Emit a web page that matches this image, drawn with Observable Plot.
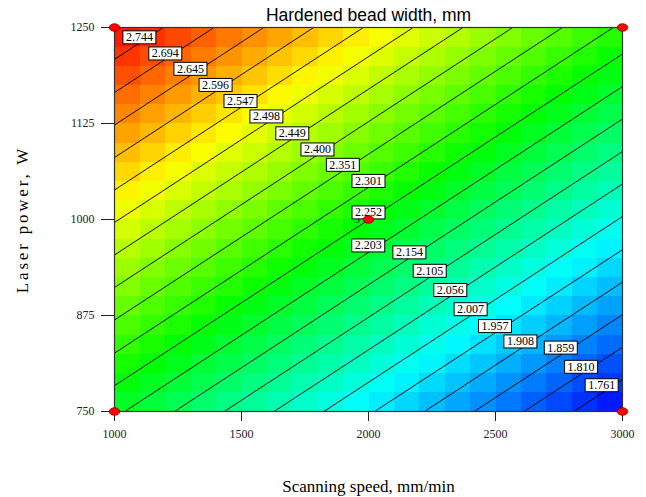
<!DOCTYPE html>
<html>
<head>
<meta charset="utf-8">
<script src="https://cdn.jsdelivr.net/npm/d3@7"></script>
<script src="https://cdn.jsdelivr.net/npm/@observablehq/plot@0.6"></script>
<style>
  html, body { margin: 0; padding: 0; background: white; }
</style>
</head>
<body>
<script>
// Design points (scanning speed, laser power) and the model response at each
const speeds = [1000, 3000, 1000, 3000, 2000];
const powers = [750, 750, 1250, 1250, 1000];
const widths = [2.213, 1.713, 2.792, 2.292, 2.2525];
const centerReplicates = 5;

// Contour levels and where their labels sit (speed, power)
const levels = [1.761, 1.810, 1.859, 1.908, 1.957, 2.007, 2.056, 2.105, 2.154, 2.203,
                2.252, 2.301, 2.351, 2.400, 2.449, 2.498, 2.547, 2.596, 2.645, 2.694, 2.744];
const labelSpeed = [2918, 2837, 2757, 2598, 2498, 2402, 2322, 2241, 2161, 1999,
                    2000, 2000, 1899, 1799, 1700, 1598, 1496, 1398, 1299, 1200, 1098];
const labelPower = [784, 808, 833, 841, 861, 883, 908, 933, 957, 966,
                    1009, 1050, 1071, 1091, 1112, 1134, 1154, 1175, 1196, 1216, 1237];

// Axis ticks
const speedTicks = [1000, 1500, 2000, 2500, 3000];
const powerTicks = [750, 875, 1000, 1125, 1250];

const title = "Hardened bead width, mm";
const xLabel = "Scanning speed, mm/min";
const yLabel = "Laser power, W";

const colors = ["#0000ff", "#00ffff", "#00ff00", "#ffff00", "#ff0000"];

const pts = speeds.map((s, i) => ({speed: s, power: powers[i], width: widths[i]}));
const labels = levels.map((v, i) => ({v, speed: labelSpeed[i], power: labelPower[i]}));
const [lo, hi] = d3.extent(widths);
const stops = colors.map((c, i) => lo + (hi - lo) * i / (colors.length - 1));
const fmt = d3.format(".3f");

const ellipse = {
  draw(ctx, size) {
    const r = Math.sqrt(size / Math.PI), a = r * 1.07, b = r * 0.76, k = 0.5523;
    ctx.moveTo(a, 0);
    ctx.bezierCurveTo(a, k * b, k * a, b, 0, b);
    ctx.bezierCurveTo(-k * a, b, -a, k * b, -a, 0);
    ctx.bezierCurveTo(-a, -k * b, -k * a, -b, 0, -b);
    ctx.bezierCurveTo(k * a, -b, a, -k * b, a, 0);
    ctx.closePath();
  }
};

const bounds = {x1: speedTicks[0], x2: speedTicks[speedTicks.length - 1],
                y1: powerTicks[0], y2: powerTicks[powerTicks.length - 1]};

const chart = Plot.plot({
  width: 646,
  height: 497,
  marginLeft: 114,
  marginRight: 24,
  marginTop: 27,
  marginBottom: 86,
  style: {fontFamily: "'Liberation Serif', 'Times New Roman', serif", fontSize: "12px", color: "#222", background: "white"},
  x: {domain: [bounds.x1, bounds.x2], ticks: speedTicks, tickFormat: d => String(d), tickSize: 10, tickPadding: 8, label: null},
  y: {domain: [bounds.y1, bounds.y2], ticks: powerTicks, tickFormat: d => String(d), tickSize: 13, tickPadding: 7, label: null},
  color: {type: "linear", domain: stops, range: colors, interpolate: "rgb"},
  marks: [
    Plot.raster(pts, {x: "speed", y: "power", fill: "width", interpolate: "barycentric",
      ...bounds, width: 20, height: 20, imageRendering: "pixelated"}),
    Plot.contour(pts, {x: "speed", y: "power", value: "width", interpolate: "barycentric",
      ...bounds, pixelSize: 1, thresholds: levels, stroke: "black", strokeWidth: 1, fill: "none"}),
    Plot.frame({stroke: "#333", strokeWidth: 1.2}),
    Plot.text([pts[4]], {x: "speed", y: "power", text: () => String(centerReplicates), dx: -11.5, dy: -0.5, fill: "#222", fontSize: 12}),
    Plot.text(labels, {x: "speed", y: "power", text: d => fmt(d.v), fill: "black", fontSize: 12}),
    Plot.dot(pts, {x: "speed", y: "power", symbol: ellipse, r: 5, fill: "#ff0000", stroke: "#700000", strokeWidth: 0.7}),
    Plot.text([title], {frameAnchor: "top", dy: -12.6, lineAnchor: "middle", textAnchor: "middle", fontSize: 17.5, fill: "black",
      fontFamily: "'Liberation Sans', Arial, sans-serif"}),
    Plot.text([xLabel], {frameAnchor: "bottom", dy: 75, lineAnchor: "middle", textAnchor: "middle", fontSize: 17, fill: "black"}),
    Plot.text([yLabel], {frameAnchor: "left", dx: -92, rotate: -90, lineAnchor: "middle", textAnchor: "middle", fontSize: 17, fill: "black"})
  ]
});

document.body.append(chart);

// white boxes with black border behind contour labels
const ns = "http://www.w3.org/2000/svg";
const labelTexts = new Set(levels.map(fmt));
chart.querySelectorAll("text").forEach(t => {
  const s = t.textContent;
  if (labelTexts.has(s)) {
    const bb = t.getBBox();
    const r = document.createElementNS(ns, "rect");
    const cy = bb.y + bb.height / 2;
    r.setAttribute("x", bb.x - 3);
    r.setAttribute("y", cy - 6.5);
    r.setAttribute("width", bb.width + 6);
    r.setAttribute("height", 13);
    r.setAttribute("fill", "white");
    r.setAttribute("stroke", "black");
    r.setAttribute("stroke-width", 1);
    if (t.getAttribute("transform")) r.setAttribute("transform", t.getAttribute("transform"));
    t.parentNode.insertBefore(r, t);
  } else if (s === yLabel) {
    t.style.letterSpacing = "2.8px";
  }
});
</script>
</body>
</html>
